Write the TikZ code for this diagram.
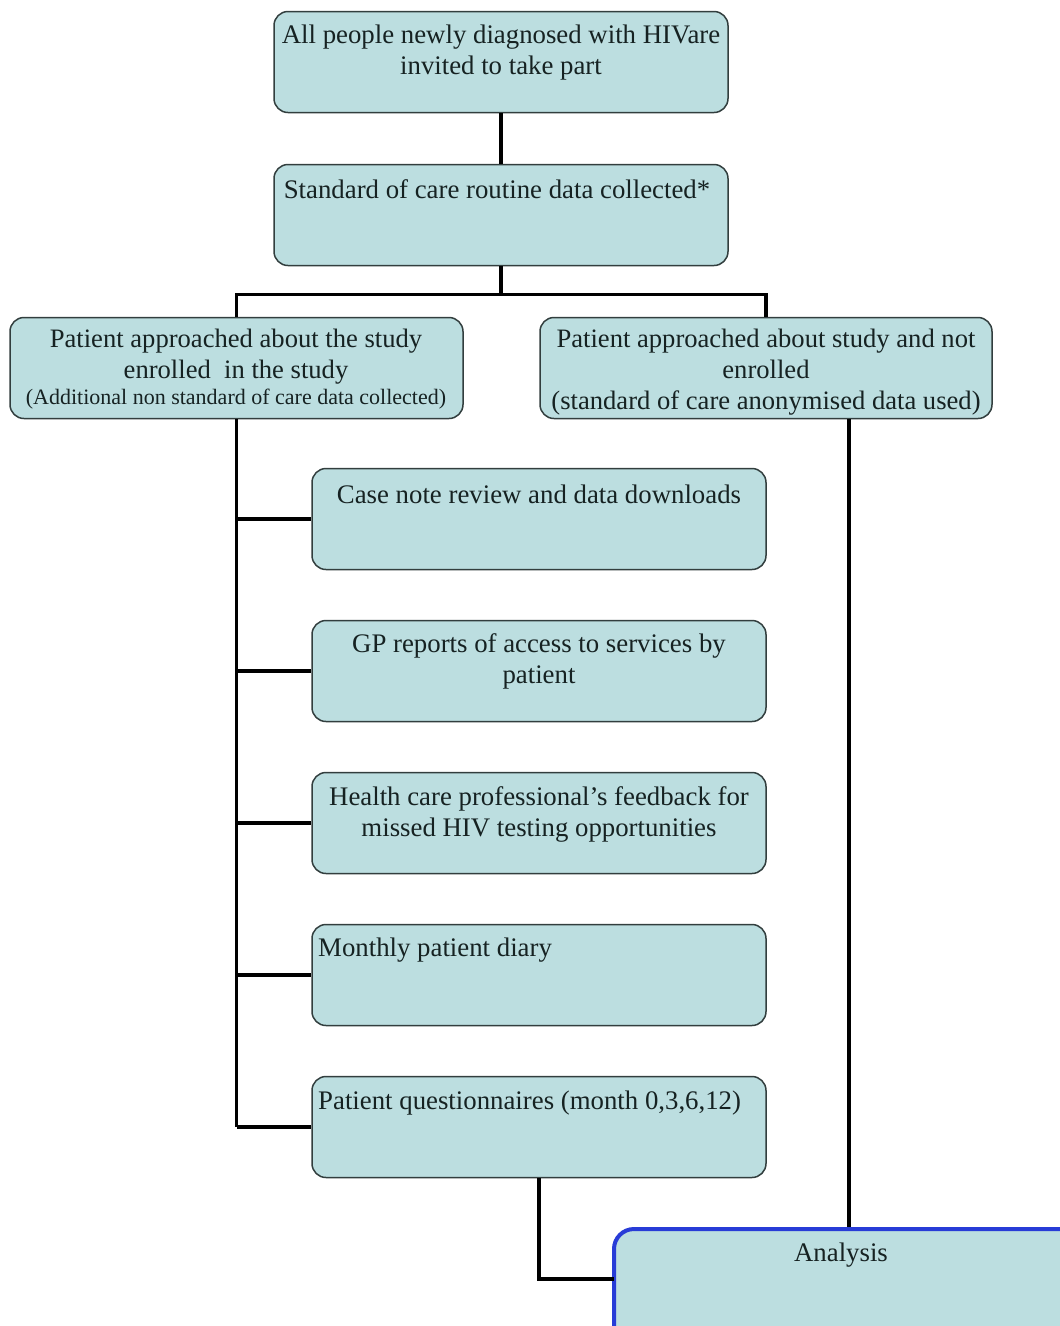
\documentclass[tikz,border=0pt]{standalone}
\usepackage{fontspec}
\setmainfont{Liberation Serif}
\definecolor{boxfill}{RGB}{188,222,224}
\definecolor{boxline}{RGB}{50,62,62}
\definecolor{txt}{RGB}{22,34,34}
\definecolor{anblue}{RGB}{40,60,215}
\begin{document}
\begin{tikzpicture}[x=1pt,y=-1pt,
  box/.style={draw=boxline,line width=1.5pt,fill=boxfill,rounded corners=14pt,inner sep=0pt,minimum width=454pt,minimum height=101pt},
  lbl/.style={text=txt,align=center,inner sep=0pt,font=\fontsize{26.8}{31}\selectfont},
  conn/.style={line width=3.4pt,black}]
\useasboundingbox (0,0) rectangle (1060,1326);
\begin{scope}
\clip (0,0) rectangle (1060,1326);
\node[box] (b1) at (501,62) {};
\node[box] (b2) at (501,215) {};
\node[box,minimum width=453pt] (l) at (236.5,368) {};
\node[box,minimum width=452pt] (r) at (766,368) {};
\node[box] (c1) at (539,519) {};
\node[box] (c2) at (539,671) {};
\node[box] (c3) at (539,823) {};
\node[box] (c4) at (539,975) {};
\node[box] (c5) at (539,1127) {};
\node[box,draw=anblue,line width=4pt,minimum width=476pt,minimum height=141pt,rounded corners=20pt] (an) at (852,1299.5) {};

\node[lbl] (t1) at (501,52.5) {All people newly diagnosed with HIVare\\invited to take part};
\node[lbl] (t2) at (497,189) {Standard of care routine data collected*};
\node[lbl,font=\fontsize{26.6}{31}\selectfont] (tl) at (236,357) {Patient approached about the study\\enrolled\ \ in the study};
\node[lbl,font=\fontsize{22}{24}\selectfont] (tl2) at (236,399) {(Additional non standard of care data collected)};
\node[lbl,font=\fontsize{26.6}{31}\selectfont] (tr) at (766,372) {Patient approached about study and not\\enrolled\\(standard of care anonymised data used)};
\node[lbl] (tc1) at (539,494) {Case note review and data downloads};
\node[lbl] (tc2) at (539,661.5) {GP reports of access to services by\\patient};
\node[lbl] (tc3) at (539,814.5) {Health care professional’s feedback for\\missed HIV testing opportunities};
\node[lbl,anchor=west] (tc4) at (318,950) {Monthly patient diary};
\node[lbl,anchor=west] (tc5) at (318,1103) {Patient questionnaires (month 0,3,6,12)};
\node[lbl] (tan) at (841,1255) {Analysis};

\coordinate (aj) at (614,1279);
\coordinate (rx) at (849,0);

\draw[conn] (b1.south) -- (b2.north);
\draw[conn] (b2.south) -- (b2.south |- 0,296);
\draw[conn] (l.north) -- ++(0,-22) -| (r.north);
\draw[conn] (l.south) -- (l.south |- c5.west);
\foreach \n in {c1,c2,c3,c4,c5}{
  \draw[conn] (l.south |- \n.west) -- (\n.west);
}
\draw[conn] (c5.south) |- (aj);
\draw[conn] (r.south -| rx) -- (an.north -| rx);
\end{scope}
\end{tikzpicture}
\end{document}
